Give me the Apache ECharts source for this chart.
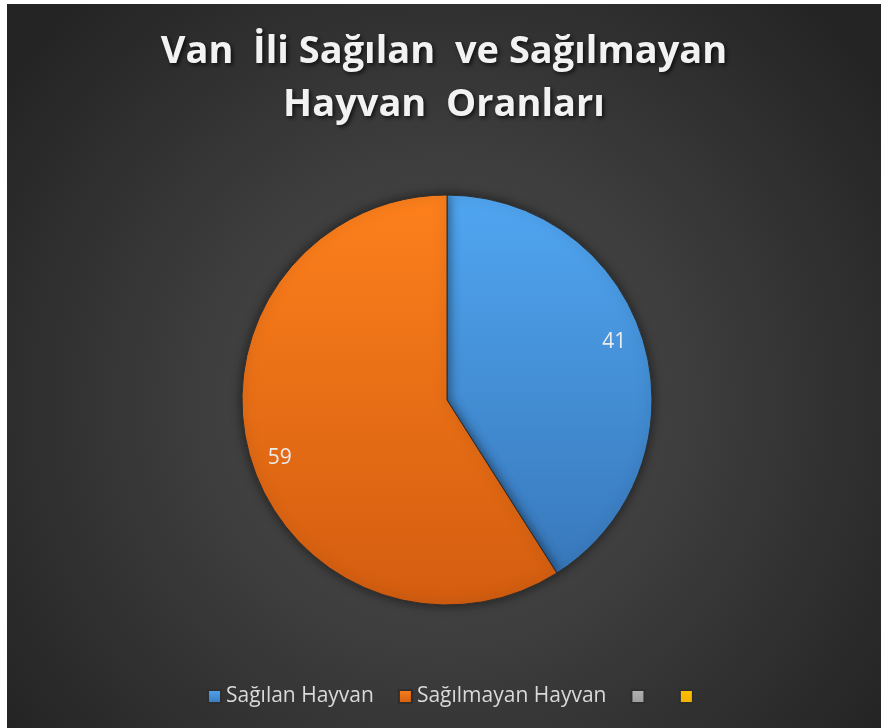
<!DOCTYPE html>
<html>
<head>
<meta charset="utf-8">
<script src="https://cdn.jsdelivr.net/npm/echarts@6/dist/echarts.min.js"></script>
<style>
  html, body { margin: 0; padding: 0; background: #fff; }
  #chart { position: absolute; left: 7px; top: 4px; width: 874px; height: 724px; }
</style>
</head>
<body>
<div id="chart"></div>
<script>
// kategoriler ve degerler
const categories = ['Sağılan Hayvan', 'Sağılmayan Hayvan', ' ', '  ']
const values = [41, 59, '-', '-']
const titleLines = ['Van  İli Sağılan  ve Sağılmayan', 'Hayvan  Oranları']

const sliceColors = [
  ['#50a6f1', '#3878bb'],
  ['#fd801c', '#d35d10'],
  ['#b4b4b4', '#9a9a9a'],
  ['#ffc000', '#f0b000']
]

function grad(c) {
  return new echarts.graphic.LinearGradient(0, 0, 0, 1, [
    { offset: 0, color: c[0] },
    { offset: 1, color: c[1] }
  ])
}

const pieData = categories.map((name, i) => ({
  name: name,
  value: values[i],
  itemStyle: { color: grad(sliceColors[i]) }
}))

const labelData = categories.map((name, i) => ({ name: name, value: values[i] }))

const chart = echarts.init(document.getElementById('chart'))
chart.setOption({
  backgroundColor: {
    type: 'radial',
    x: 0.5,
    y: 0.55,
    r: 0.75,
    colorStops: [
      { offset: 0, color: '#525252' },
      { offset: 1, color: '#242424' }
    ]
  },
  animation: false,
  title: {
    text: titleLines.join('\n'),
    left: 'center',
    top: 17,
    textStyle: {
      color: '#f2f2f2',
      fontFamily: 'Open Sans',
      fontWeight: 'bold',
      fontSize: 38,
      lineHeight: 53,
      textShadowColor: 'rgba(0,0,0,0.7)',
      textShadowBlur: 4,
      textShadowOffsetX: 2,
      textShadowOffsetY: 2
    }
  },
  legend: {
    data: categories,
    top: 677,
    left: 195,
    icon: 'rect',
    itemWidth: 13,
    itemHeight: 13,
    itemGap: 24,
    textStyle: {
      color: '#d9d9d9',
      fontFamily: 'Open Sans',
      fontSize: 21
    }
  },
  series: [
    {
      type: 'pie',
      center: [440, 396],
      radius: 205,
      startAngle: 90,
      clockwise: true,
      silent: true,
      label: { show: false },
      labelLine: { show: false },
      itemStyle: {
        borderColor: '#2e2e2e',
        borderWidth: 1,
        shadowBlur: 12,
        shadowColor: 'rgba(0,0,0,0.55)'
      },
      data: pieData
    },
    {
      // sadece etiketler icin
      type: 'pie',
      center: [440, 396],
      radius: [143, 205],
      startAngle: 93,
      clockwise: true,
      silent: true,
      itemStyle: { color: 'rgba(0,0,0,0)' },
      label: {
        show: true,
        position: 'inside',
        formatter: '{c}',
        color: '#ececec',
        fontFamily: 'Open Sans',
        fontSize: 21
      },
      labelLine: { show: false },
      data: labelData
    }
  ]
})
</script>
</body>
</html>
